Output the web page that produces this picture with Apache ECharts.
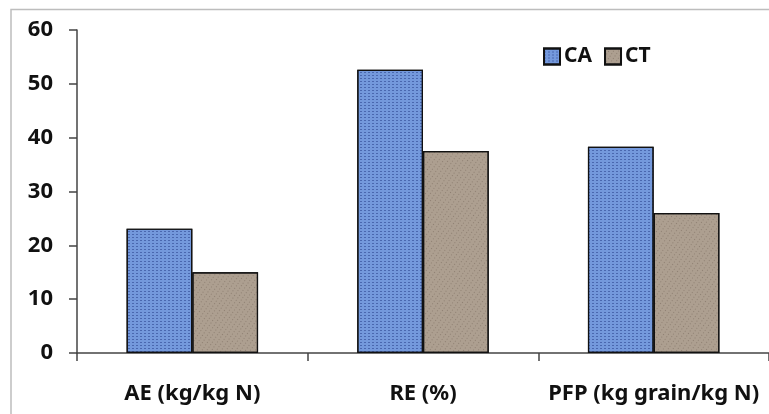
<!DOCTYPE html>
<html><head><meta charset="utf-8">
<script src="https://cdn.jsdelivr.net/npm/echarts@6/dist/echarts.min.js"></script>
<style>html,body{margin:0;padding:0;background:#fff}#c{width:769px;height:414px}</style>
</head><body><div id="c"></div>
<script>
const categories = ['AE (kg/kg N)', 'RE (%)', 'PFP (kg grain/kg N)'];
const seriesNames = ['CA', 'CT'];
const caValues = [23.1, 52.6, 38.3];
const ctValues = [15.0, 37.5, 26.0];
const yTicks = [0, 10, 20, 30, 40, 50, 60];

const chart = echarts.init(document.getElementById('c'), null, {renderer: 'canvas'});
const font = 'Noto Sans';
chart.setOption({
  animation: false,
  aria: {enabled: false},
  graphic: [{
    type: 'polyline', silent: true,
    shape: {points: [[11, 414], [11, 9.5], [769, 9.5]]},
    style: {stroke: '#bdbdbd', lineWidth: 1.5, fill: null}
  }],
  legend: {
    data: seriesNames,
    left: 538, top: 41,
    itemWidth: 16, itemHeight: 16, itemGap: 12,
    textStyle: {fontFamily: font, fontWeight: 'bold', fontSize: 21, color: '#111', padding: [0, 0, 0, -1]},
    icon: 'rect'
  },
  grid: {left: 77, right: 0, top: 30, bottom: 61, containLabel: false},
  xAxis: {
    type: 'category', data: categories,
    axisLine: {lineStyle: {color: '#444', width: 1.5}},
    axisTick: {show: true, length: 8, lineStyle: {color: '#444', width: 1.5}},
    axisLabel: {fontFamily: font, fontWeight: 'bold', fontSize: 22, color: '#111', margin: 30, interval: 0}
  },
  yAxis: {
    type: 'value', min: yTicks[0], max: yTicks[yTicks.length - 1], interval: 10,
    axisLine: {show: true, lineStyle: {color: '#444', width: 1.5}},
    axisTick: {show: true, length: 8, lineStyle: {color: '#444', width: 1.5}},
    splitLine: {show: false},
    axisLabel: {fontFamily: font, fontWeight: 'bold', fontSize: 22, color: '#111', margin: 24}
  },
  series: [
    {
      name: seriesNames[0], type: 'bar', data: caValues,
      barGap: '0%', barCategoryGap: '43%',
      itemStyle: {
        color: '#7499dc', borderColor: '#111', borderWidth: 1.2,
        decal: {symbol: 'rect', color: 'rgba(25,45,120,0.45)', dashArrayX: [2, 2], dashArrayY: [1, 2], rotation: 0, symbolSize: 1}
      }
    },
    {
      name: seriesNames[1], type: 'bar', data: ctValues,
      barGap: '0%', barCategoryGap: '43%',
      itemStyle: {
        color: '#ad9f90', borderColor: '#111', borderWidth: 1.2,
        decal: {symbol: 'circle', color: 'rgba(70,55,45,0.4)', dashArrayX: [1, 3], dashArrayY: [1, 2], rotation: 0.6, symbolSize: 1}
      }
    }
  ]
});
</script></body></html>
